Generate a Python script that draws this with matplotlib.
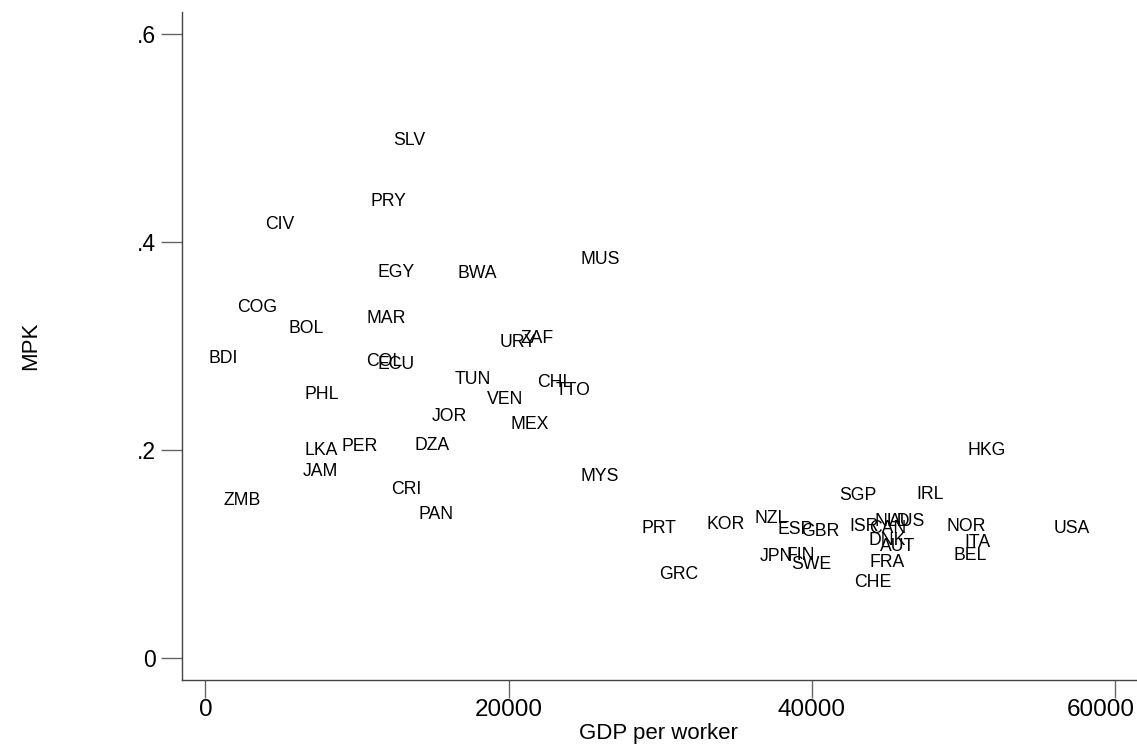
import matplotlib.pyplot as plt
from matplotlib.transforms import ScaledTranslation

plt.rcParams['font.family'] = ['Liberation Sans', 'DejaVu Sans']

# country codes, GDP per worker, MPK
country = ['SLV', 'PRY', 'CIV', 'EGY', 'BWA', 'MUS', 'COG', 'BOL', 'MAR', 'BDI',
           'COL', 'ECU', 'URY', 'ZAF', 'TUN', 'CHL', 'TTO', 'PHL', 'VEN', 'JOR',
           'MEX', 'LKA', 'PER', 'DZA', 'JAM', 'MYS', 'ZMB', 'CRI', 'PAN', 'HKG',
           'SGP', 'IRL', 'PRT', 'KOR', 'NZL', 'ESP', 'GBR', 'ISR', 'CAN', 'NLD',
           'AUS', 'DNK', 'AUT', 'NOR', 'ITA', 'BEL', 'USA', 'JPN', 'FIN', 'SWE',
           'FRA', 'CHE', 'GRC']
gdp = [13460, 12080, 4900, 12590, 17930, 26030, 3430, 6610, 11930, 1170,
       11820, 12590, 20600, 21850, 17640, 23020, 24220, 7690, 19770, 16100,
       21370, 7600, 10170, 14930, 7600, 26030, 2420, 13250, 15220, 51520,
       43000, 47790, 29930, 34280, 37330, 38870, 40540, 43440, 44970, 45280,
       46270, 44930, 45630, 50140, 50900, 50420, 57100, 37620, 39270, 39930,
       44970, 44030, 31210]
mpk = [0.4974, 0.4388, 0.4163, 0.3709, 0.3699, 0.3827, 0.3368, 0.3170, 0.3260, 0.2882,
       0.2849, 0.2817, 0.3032, 0.3067, 0.2673, 0.2651, 0.2570, 0.2529, 0.2481, 0.2320,
       0.2240, 0.1993, 0.2032, 0.2038, 0.1791, 0.1743, 0.1510, 0.1615, 0.1375, 0.1993,
       0.1558, 0.1574, 0.1240, 0.1286, 0.1343, 0.1231, 0.1214, 0.1262, 0.1247, 0.1311,
       0.1311, 0.1125, 0.1070, 0.1262, 0.1113, 0.0984, 0.1240, 0.0974, 0.0984, 0.0901,
       0.0920, 0.0728, 0.0798]

xticks = [0, 20000, 40000, 60000]
yticks = [0, 0.2, 0.4, 0.6]
ytick_labels = ['0', '.2', '.4', '.6']

fig = plt.figure(figsize=(11.37, 7.44), dpi=100)
ax = fig.add_axes([0.160, 0.086, 0.839, 0.898])

for c, x, y in zip(country, gdp, mpk):
    ax.text(x, y, c, ha='center', va='center', fontsize=12.7, color='black')

ax.set_xlim(-1555, 61360)
ax.set_ylim(-0.0212, 0.621)
ax.set_xticks(xticks)
ax.set_yticks(yticks)
ax.set_yticklabels(ytick_labels)

for s in ['top', 'right']:
    ax.spines[s].set_visible(False)
for s in ['left', 'bottom']:
    ax.spines[s].set_color('#444444')
    ax.spines[s].set_linewidth(1.0)
ax.tick_params(axis='x', direction='out', length=13, width=1, color='#666666',
               labelsize=17.5, pad=1)
ax.tick_params(axis='y', direction='out', length=15, width=1, color='#666666',
               labelsize=16.5, pad=4)

# the last x label sits a bit inside the right edge, as in the original
last = ax.get_xticklabels()[-1]
last.set_transform(last.get_transform() + ScaledTranslation(-0.14, 0, fig.dpi_scale_trans))

ax.set_xlabel('GDP per worker', fontsize=16)
ax.xaxis.set_label_coords(0.499, -0.064)
ax.set_ylabel('MPK', fontsize=16)
ax.yaxis.set_label_coords(-0.148, 0.5)

fig.savefig('out.png', dpi=100)
